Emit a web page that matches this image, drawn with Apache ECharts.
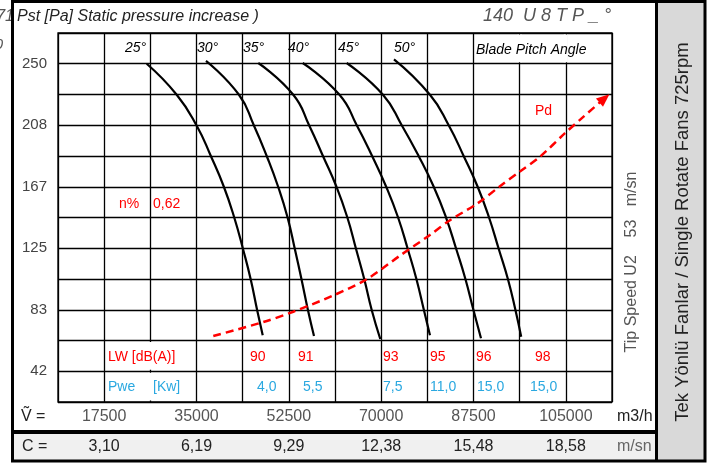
<!DOCTYPE html>
<html>
<head>
<meta charset="utf-8">
<script src="https://cdn.jsdelivr.net/npm/echarts/dist/echarts.min.js"></script>
<style>
  html, body { margin: 0; padding: 0; background: #fff; }
  #main { width: 711px; height: 463px; }
</style>
</head>
<body>
<div id="main"></div>
<script>
// blade pitch curves, [flow m3/h, static pressure Pa]
var blade25 = [[25560, 250], [31250, 229], [35040, 208], [37780, 187], [40150, 167], [42140, 146], [43850, 124], [45270, 104], [46500, 83], [47550, 66]]
var blade30 = [[36800, 252], [43050, 229], [45900, 208], [48360, 187], [50440, 167], [52250, 146], [53670, 124], [54900, 104], [56130, 83], [57270, 65.5]]
var blade35 = [[46710, 250.5], [53340, 229], [56380, 208], [59030, 187], [61490, 167], [63580, 146], [65280, 124], [66800, 104], [68220, 83], [69830, 63.5]]
var blade40 = [[55130, 250.5], [62100, 229], [65420, 208], [68350, 187], [70910, 167], [73190, 146], [75080, 124], [76690, 104], [78110, 83], [79250, 66]]
var blade45 = [[63460, 250.5], [70340, 229], [73950, 208], [77170, 187], [79920, 167], [82280, 146], [84270, 124], [85980, 104], [87500, 83], [88920, 64]]
var blade50 = [[72430, 253], [79250, 229], [82850, 208], [85700, 187], [88250, 167], [90430, 146], [92330, 124], [94030, 104], [95460, 83], [96540, 65]]
// dynamic pressure line (Pd)
var pdCurve = [[38180, 65.5], [47660, 75], [53340, 82], [60930, 93], [67260, 104], [73570, 120], [79250, 134], [83040, 144], [88100, 155], [92520, 167], [96310, 177], [100100, 187], [104840, 203], [108310, 214], [112320, 226.5]]

var angles = ['25°', '30°', '35°', '40°', '45°', '50°']
var flowTicks = ['17500', '35000', '52500', '70000', '87500', '105000']
var speedTicks = ['3,10', '6,19', '9,29', '12,38', '15,48', '18,58']
var pressureTicks = ['42', '83', '125', '167', '208', '250']
var lwValues = ['90', '91', '93', '95', '96', '98']
var pweValues = ['4,0', '5,5', '7,5', '11,0', '15,0', '15,0']

var FONT = '"Liberation Sans", Arial, sans-serif'
var xStep = 8750
var yStep = 250 / 12

var chart = echarts.init(document.getElementById('main'))

function flowLabel (v) {
  var k = Math.round(v / xStep)
  return (k % 2 === 0 && k >= 2 && k <= 12) ? flowTicks[k / 2 - 1] : ''
}
function speedLabel (v) {
  var k = Math.round(v / xStep)
  return (k % 2 === 0 && k >= 2 && k <= 12) ? speedTicks[k / 2 - 1] : ''
}
function pressureLabel (v) {
  var k = Math.round(v / yStep)
  return (k % 2 === 0 && k >= 2 && k <= 12) ? pressureTicks[k / 2 - 1] : ''
}

function bladeSeries (data) {
  return {
    type: 'line',
    data: data,
    smooth: 0.5,
    symbol: 'none',
    lineStyle: { color: '#000', width: 2.2 },
    z: 3
  }
}

var pdData = pdCurve.map(function (p, i) {
  if (i === pdCurve.length - 1) {
    return { value: p, symbol: 'triangle', symbolSize: [11, 13], symbolRotate: -50, itemStyle: { color: '#ff0000' } }
  }
  return { value: p, symbol: 'none' }
})

var axisCommon = {
  type: 'value',
  min: xStep,
  max: xStep * 13,
  interval: xStep,
  axisTick: { show: false }
}

chart.setOption({
  animation: false,
  grid: { left: 58, top: 33, width: 554, height: 369, show: true, borderColor: '#000', borderWidth: 1.3 },
  xAxis: [
    Object.assign({}, axisCommon, {
      position: 'bottom',
      axisLine: { show: false },
      splitLine: { show: true, lineStyle: { color: '#000', width: 1.3 } },
      axisLabel: { formatter: flowLabel, color: '#555', fontSize: 16, fontFamily: FONT, margin: 7 }
    }),
    Object.assign({}, axisCommon, {
      position: 'bottom',
      offset: 30,
      axisLine: { show: false },
      splitLine: { show: false },
      axisLabel: { formatter: speedLabel, color: '#222', fontSize: 16, fontFamily: FONT, margin: 7 },
      z: 5
    })
  ],
  yAxis: {
    type: 'value',
    min: yStep,
    max: yStep * 13,
    interval: yStep,
    axisLine: { show: false },
    axisTick: { show: false },
    splitLine: { show: true, lineStyle: { color: '#000', width: 1.3 } },
    axisLabel: { formatter: pressureLabel, color: '#444', fontSize: 15, fontFamily: FONT, margin: 11 }
  },
  series: [
    bladeSeries(blade25),
    bladeSeries(blade30),
    bladeSeries(blade35),
    bladeSeries(blade40),
    bladeSeries(blade45),
    bladeSeries(blade50),
    {
      type: 'line',
      data: pdData,
      smooth: 0.3,
      showSymbol: true,
      clip: false,
      lineStyle: { color: '#ff0000', width: 2.5, type: [8, 5] },
      z: 4
    }
  ]
})

function text (x, y, s, o) {
  o = o || {}
  return {
    type: 'text',
    x: x,
    y: y,
    rotation: o.rotation || 0,
    z: 20,
    style: {
      text: s,
      fill: o.color || '#000',
      font: (o.italic ? 'italic ' : '') + (o.size || 14) + 'px ' + FONT,
      textAlign: o.align || 'left',
      align: o.align || 'left',
      textVerticalAlign: 'middle',
      verticalAlign: 'middle'
    }
  }
}

var px = function (v) { return chart.convertToPixel({ xAxisIndex: 0 }, v) }
var py = function (v) { return chart.convertToPixel({ yAxisIndex: 0 }, v) }

function cover (x, y1, y2) {
  return {
    type: 'rect',
    z: 1,
    shape: { x: x - 2, y: y1 + 1.5, width: 4, height: y2 - y1 - 3 },
    style: { fill: '#fff' }
  }
}

var els = []
// light strip behind the C row and right side panel
els.push({ type: 'rect', z: 0, shape: { x: 13, y: 432, width: 644, height: 28 }, style: { fill: '#f0f0f0' } })
els.push({ type: 'rect', z: 0, shape: { x: 657, y: 2, width: 47, height: 458 }, style: { fill: '#d9d9d9' } })

// cells merged in the table: no inner lines there
els.push(cover(px(xStep * 11), py(yStep * 13), py(yStep * 12)))
els.push(cover(px(xStep * 12), py(yStep * 13), py(yStep * 12)))
els.push(cover(px(xStep * 3), py(yStep * 3), py(yStep * 2)))
els.push(cover(px(xStep * 3), py(yStep * 2), py(yStep * 1)))

// frame
els.push({ type: 'line', z: 30, shape: { x1: 13, y1: 432, x2: 657, y2: 432 }, style: { stroke: '#000', lineWidth: 4 } })
els.push({ type: 'line', z: 30, shape: { x1: 656.5, y1: 2, x2: 656.5, y2: 461 }, style: { stroke: '#000', lineWidth: 3 } })
els.push({ type: 'rect', z: 30, shape: { x: 12.5, y: 1.5, width: 692.5, height: 459.5 }, style: { fill: null, stroke: '#000', lineWidth: 3 } })

// titles
els.push(text(14, 17, '71', { italic: true, size: 16, color: '#555', align: 'right' }))
els.push(text(3, 45, '0', { italic: true, size: 15, color: '#555', align: 'right' }))
els.push(text(17, 17, 'Pst [Pa] Static pressure increase )', { italic: true, size: 16, color: '#222' }))
els.push(text(483, 16, '140  U 8 T P _ °', { italic: true, size: 18, color: '#555' }))

// blade angle labels
var angleX = [125, 197, 243, 288, 338, 394]
angles.forEach(function (a, i) {
  els.push(text(angleX[i], 48, a, { italic: true, size: 14 }))
})
els.push(text(476, 50, 'Blade Pitch Angle', { italic: true, size: 14 }))

els.push(text(535, 111, 'Pd', { size: 14, color: '#ff0000' }))
els.push(text(119, 204, 'n%', { size: 14, color: '#ff0000' }))
els.push(text(153, 204, '0,62', { size: 14, color: '#ff0000' }))

// LW / Pwe table
els.push(text(108, 357, 'LW [dB(A)]', { size: 14, color: '#ff0000' }))
els.push(text(108, 387, 'Pwe', { size: 14, color: '#2aa8e0' }))
els.push(text(153, 387, '[Kw]', { size: 14, color: '#2aa8e0' }))
var lwX = [250, 298, 383, 430, 476, 535]
var pweX = [257, 303, 383, 430, 477, 530]
lwValues.forEach(function (v, i) {
  els.push(text(lwX[i], 357, v, { size: 14, color: '#ff0000' }))
})
pweValues.forEach(function (v, i) {
  els.push(text(pweX[i], 387, v, { size: 14, color: '#2aa8e0' }))
})

// bottom rows
els.push(text(21, 417, 'Ṽ =', { size: 16, color: '#222' }))
els.push(text(22, 447, 'C =', { size: 16, color: '#222' }))
els.push(text(617, 417, 'm3/h', { size: 16, color: '#222' }))
els.push(text(617, 447, 'm/sn', { size: 16, color: '#666' }))

// vertical texts
els.push(text(632, 262, 'Tip Speed U2    53   m/sn', { size: 16, color: '#555', align: 'center', rotation: Math.PI / 2 }))
els.push(text(683, 232, 'Tek Yönlü Fanlar / Single Rotate Fans 725rpm', { size: 18.5, color: '#222', align: 'center', rotation: Math.PI / 2 }))

chart.setOption({ graphic: els })
</script>
</body>
</html>
